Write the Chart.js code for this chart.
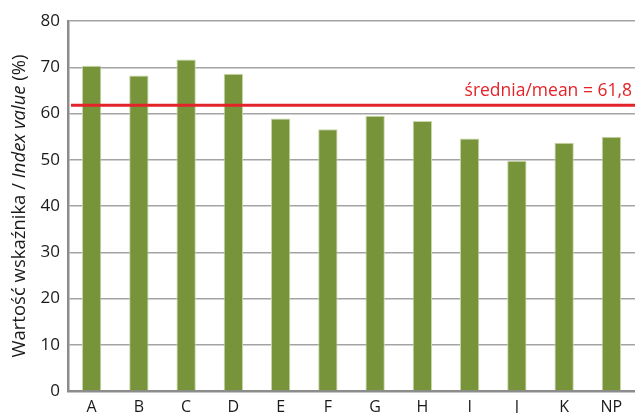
<!DOCTYPE html>
<html>
<head>
<meta charset="utf-8">
<script src="https://cdn.jsdelivr.net/npm/chart.js@4"></script>
<style>
  html, body { margin: 0; padding: 0; background: #fff; }
  #wrap { width: 635px; height: 413px; position: relative; }
</style>
</head>
<body>
<div id="wrap"><canvas id="chart" width="635" height="413"></canvas></div>
<script>
// categories and index values (%)
const categories = ['A', 'B', 'C', 'D', 'E', 'F', 'G', 'H', 'I', 'J', 'K', 'NP'];
const indexValues = [70.3, 68.2, 71.7, 68.6, 58.9, 56.6, 59.5, 58.4, 54.6, 49.8, 53.7, 55.0];
const yTicks = [0, 10, 20, 30, 40, 50, 60, 70, 80];
const meanValue = 61.8;
const meanLabel = 'średnia/mean = 61,8';

const FONT = "'Open Sans', 'DejaVu Sans', sans-serif";
const RED = '#e3232a';

// horizontal mean line + its label, drawn over the bars
const meanLinePlugin = {
  id: 'meanLine',
  afterDatasetsDraw(chart) {
    const {ctx, chartArea, scales} = chart;
    const y = scales.y.getPixelForValue(meanValue);
    ctx.save();
    ctx.strokeStyle = RED;
    ctx.lineWidth = 3;
    ctx.beginPath();
    ctx.moveTo(chartArea.left + 3, y);
    ctx.lineTo(chartArea.right, y);
    ctx.stroke();
    ctx.fillStyle = RED;
    ctx.font = "17.5px " + FONT;
    ctx.textAlign = 'right';
    ctx.textBaseline = 'alphabetic';
    ctx.fillText(meanLabel, chartArea.right - 3, y - 9);
    ctx.restore();
  }
};

// rotated y-axis title with the english part in italics
const yTitlePlugin = {
  id: 'yTitle',
  afterDraw(chart) {
    const {ctx, chartArea} = chart;
    const size = 18.5;
    const parts = [
      {t: 'Wartość wskaźnika / ', f: size + "px " + FONT},
      {t: 'Index value', f: "italic " + size + "px " + FONT},
      {t: ' (%)', f: size + "px " + FONT}
    ];
    ctx.save();
    let total = 0;
    parts.forEach(p => { ctx.font = p.f; p.w = ctx.measureText(p.t).width; total += p.w; });
    const cy = (chartArea.top + chartArea.bottom) / 2;
    ctx.translate(25, cy);
    ctx.rotate(-Math.PI / 2);
    ctx.fillStyle = '#1a1a1a';
    ctx.textBaseline = 'alphabetic';
    ctx.textAlign = 'left';
    let x = -total / 2;
    parts.forEach(p => { ctx.font = p.f; ctx.fillText(p.t, x, 0); x += p.w; });
    ctx.restore();
  }
};

const ctx = document.getElementById('chart').getContext('2d');
new Chart(ctx, {
  type: 'bar',
  data: {
    labels: categories,
    datasets: [{
      data: indexValues,
      backgroundColor: '#77943b',
      borderColor: '#c8d8a8',
      borderWidth: {left: 1, right: 1, top: 1, bottom: 0},
      barPercentage: 0.82,
      categoryPercentage: 0.5
    }]
  },
  options: {
    responsive: false,
    animation: false,
    layout: {padding: {top: 21, right: 0, left: 0, bottom: 0}},
    plugins: {legend: {display: false}, tooltip: {enabled: false}},
    scales: {
      x: {
        grid: {display: false, drawTicks: false},
        border: {display: true, color: '#8c8c8c', width: 2.5},
        ticks: {color: '#1a1a1a', font: {family: FONT, size: 16}, padding: 7},
        afterFit(scale) { scale.height = 22; }
      },
      y: {
        min: 0, max: 80,
        afterBuildTicks(scale) { scale.ticks = yTicks.map(v => ({value: v})); },
        grid: {color: '#a3a3a3', lineWidth: 1.5, drawTicks: false},
        border: {display: true, color: '#8c8c8c', width: 2.5},
        ticks: {color: '#1a1a1a', font: {family: FONT, size: 17}, padding: 8},
        afterFit(scale) { scale.width = 68; }
      }
    }
  },
  plugins: [meanLinePlugin, yTitlePlugin]
});
</script>
</body>
</html>
